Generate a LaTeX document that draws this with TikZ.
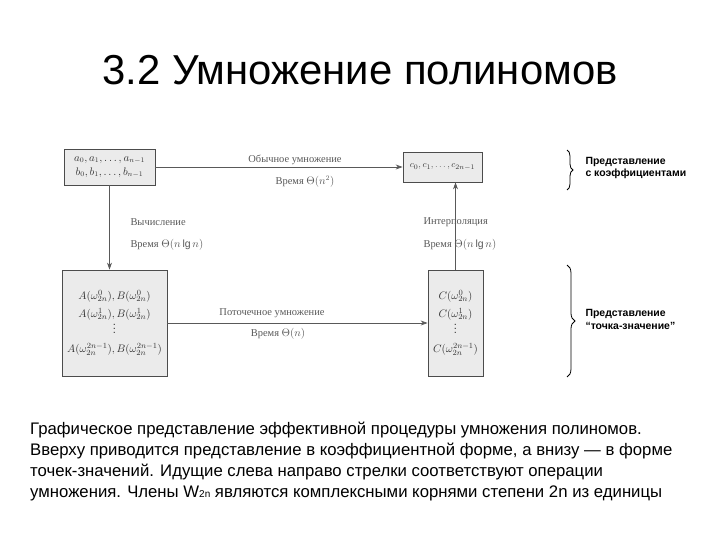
\documentclass[tikz,border=0pt]{standalone}
\usepackage{fontspec}
\setmainfont{Liberation Sans}
\newfontfamily\serif{Liberation Serif}
\usetikzlibrary{decorations.pathreplacing,arrows.meta}
\begin{document}
\begin{tikzpicture}[x=1bp,y=-1bp,
  box/.style={draw=black!70,fill=black!8,line width=0.8pt,font=\fontsize{11}{22}\selectfont,text=black!80,align=center,inner sep=1pt},
  lab/.style={font=\serif\fontsize{10.5}{12}\selectfont,text=black!65},
  arr/.style={draw=black!65,line width=0.7pt,-{Stealth[length=7pt,width=5pt]}},
  side/.style={font=\bfseries\fontsize{10.5}{13}\selectfont,align=left,anchor=west},
  captxt/.style={anchor=west,font=\fontsize{16.8}{19}\selectfont,inner sep=0pt}]
\useasboundingbox (0,0) rectangle (720,540);
\node (title) at (360,70) {\fontsize{42}{48}\selectfont 3.2 Умножение полиномов};
% boxes
\node[box,minimum width=91bp,minimum height=36bp,font=\fontsize{10.5}{14}\selectfont] (tl) at (109.5,167) {$a_0,a_1,\ldots,a_{n-1}$\\$b_0,b_1,\ldots,b_{n-1}$};
\node[box,minimum width=79bp,minimum height=30bp,font=\fontsize{9.5}{12}\selectfont] (tr) at (442.5,167) {$c_0,c_1,\ldots,c_{2n-1}$};
\node[box,minimum width=105bp,minimum height=106bp] (bl) at (114.5,323) {$A(\omega_{2n}^0),B(\omega_{2n}^0)$\\[-4pt]$A(\omega_{2n}^1),B(\omega_{2n}^1)$\\[-6pt]$\vdots$\\[-2pt]$A(\omega_{2n}^{2n-1}),B(\omega_{2n}^{2n-1})$};
\node[box,minimum width=55bp,minimum height=106bp] (br) at (455.5,323) {$C(\omega_{2n}^0)$\\[-4pt]$C(\omega_{2n}^1)$\\[-6pt]$\vdots$\\[-2pt]$C(\omega_{2n}^{2n-1})$};
% arrows
\draw[arr] (tl.east|-0,167) -- (tr.west|-0,167);
\draw[arr] (tl.south) -- (bl.north-|tl.south);
\draw[arr] (br.north) -- (tr.south-|br.north);
\draw[arr] (bl.east|-0,323) -- (br.west|-0,323);
% labels
\node[lab] (l1) at (295,160) {Обычное умножение};
\node[lab] (l2) at (305,182) {Время $\Theta(n^2)$};
\node[lab,anchor=west] (l3) at (127,222) {Вычисление};
\node[lab,anchor=west] (l4) at (127,245) {Время $\Theta(n\lg n)$};
\node[lab,anchor=west] (l5) at (420,222) {Интерполяция};
\node[lab,anchor=west] (l6) at (420,245) {Время $\Theta(n\lg n)$};
\node[lab] (l7) at (272,313) {Поточечное умножение};
\node[lab] (l8) at (278,334) {Время $\Theta(n)$};
% braces
\draw[line width=0.8pt,decorate,decoration={brace,amplitude=6pt}] (567,150) -- (567,190);
\draw[line width=0.8pt,decorate,decoration={brace,amplitude=8pt}] (567,265) -- (567,377);
\node[side] (s1) at (582,168) {Представление\\с коэффициентами};
\node[side] (s2) at (582,319) {Представление\\“точка-значение”};
% caption
\node[captxt] (c1) at (30,430) {Графическое представление эффективной процедуры умножения полиномов.};
\node[captxt] (c2) at (30,451) {Вверху приводится представление в коэффициентной форме, а внизу — в форме};
\node[captxt] (c3) at (30,472) {точек-значений. Идущие слева направо стрелки соответствуют операции};
\node[captxt] (c4) at (30,493) {умножения. Члены W{\fontsize{10}{10}\selectfont 2n} являются комплексными корнями степени 2n из единицы};
\end{tikzpicture}
\end{document}
